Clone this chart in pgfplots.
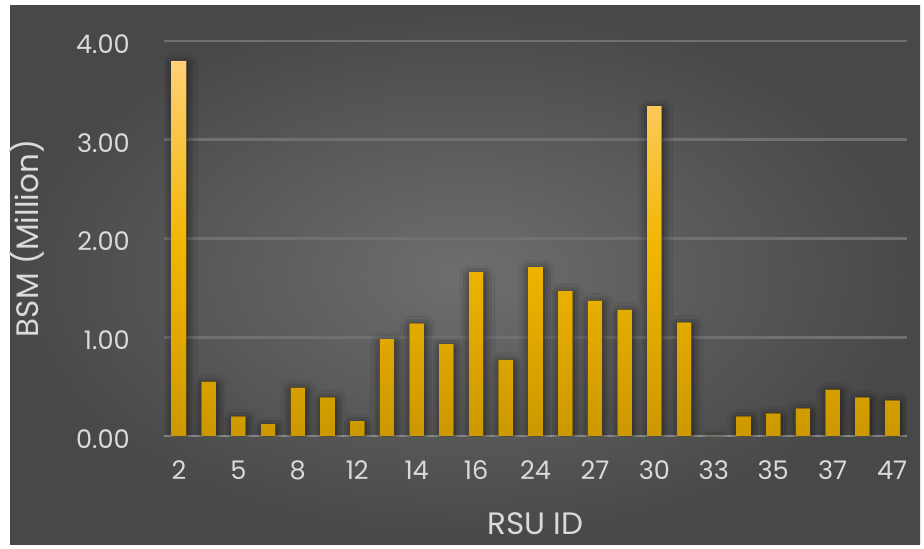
\documentclass[border=0pt]{standalone}
\usepackage{fontspec}
\setmainfont{Poppins}
\usepackage{pgfplots}
\pgfplotsset{compat=1.18}
\usetikzlibrary{shadows.blur}
\definecolor{bgIn}{RGB}{110,110,110}
\definecolor{bgOut}{RGB}{72,72,72}
\definecolor{txt}{RGB}{218,218,218}
\definecolor{gridc}{RGB}{112,112,112}
\definecolor{axisc}{RGB}{150,150,150}
\definecolor{barTop}{RGB}{255,208,118}
\definecolor{barMid}{RGB}{242,182,0}
\definecolor{barBot}{RGB}{204,152,0}

\pgfplotstableread{
x   y
0   3.80
1   0.55
2   0.20
3   0.12
4   0.49
5   0.39
6   0.15
7   0.98
8   1.14
9   0.93
10  1.66
11  0.77
12  1.71
13  1.47
14  1.37
15  1.28
16  3.34
17  1.15
18  0
19  0.20
20  0.23
21  0.28
22  0.47
23  0.39
24  0.36
}\bsm

\begin{document}
\begin{tikzpicture}
% page and chart area
\fill[white] (0,0) rectangle (462pt,274pt);
\shade[inner color=bgIn, outer color=bgOut] (5pt,2pt) rectangle (460pt,271.5pt);

\begin{axis}[
    at={(82.05pt,56pt)}, anchor=south west,
    scale only axis,
    width=371.4pt, height=197.5pt,
    xmin=-0.5, xmax=24.5,
    ymin=0, ymax=4,
    axis x line*=bottom, axis y line*=left,
    y axis line style={draw=none},
    x axis line style={draw=axisc, line width=1.2pt, -},
    major tick length=0pt,
    ytick={0,1,...,4},
    xtick={0,2,...,24},
    xticklabels={2,5,8,12,14,16,24,27,30,33,35,37,47},
    ymajorgrids,
    grid style={draw=gridc, line width=1.4pt},
    /pgf/number format/.cd, fixed, fixed zerofill, precision=2, assume math mode=true,
    /pgfplots/.cd,
    tick label style={font=\fontsize{12.8}{14}\selectfont, text=txt, inner sep=0pt},
    yticklabel style={anchor=east, xshift=-17pt, yshift=-1.5pt},
    xticklabel style={anchor=center, yshift=-17.25pt},
    label style={font=\fontsize{15.5}{18}\selectfont, text=txt},
    xlabel={RSU ID},
    ylabel={BSM (Million)},
    xlabel style={at={(axis description cs:0.5,-0.2228)}, anchor=center},
    ylabel style={at={(axis description cs:-0.1844,0.5)}, anchor=center, rotate=0},
]
% dark soft shadow under each bar
\addplot[ybar, bar width=7.3pt, draw=none, fill=black,
         blur shadow={shadow xshift=0.5pt, shadow yshift=-1.5pt,
                      shadow blur radius=5pt, shadow opacity=70}]
    table[x=x, y=y] {\bsm};
% gold bars
\addplot[ybar, bar width=7.3pt, draw=none,
         top color=barTop, bottom color=barBot, middle color=barMid]
    table[x=x, y=y] {\bsm};
\end{axis}
\end{tikzpicture}
\end{document}
